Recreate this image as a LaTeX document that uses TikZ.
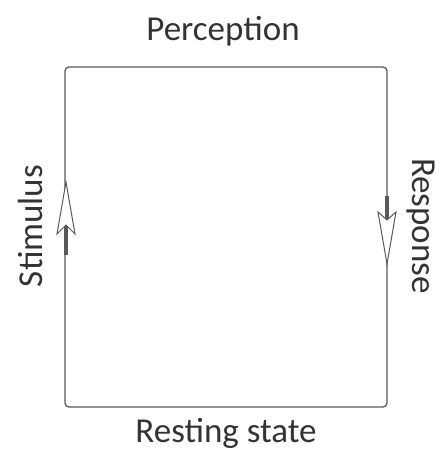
\documentclass[tikz,border=0pt]{standalone}
\usepackage{fontspec}
\setmainfont{Carlito}
\begin{document}
\begin{tikzpicture}[x=1pt,y=-1pt,
  frame/.style={draw=black!65,line width=1.3pt,rounded corners=4pt},
  head/.style={draw=black!65,line width=1pt,fill=white,line join=miter},
  shaft/.style={draw=black!65,line width=3.5pt},
  lbl/.style={font=\fontsize{35}{40}\selectfont,text=black!80}]
\useasboundingbox (0,0) rectangle (441,455);
\coordinate (tl) at (65,67);
\coordinate (br) at (387,407);
\draw[frame] (tl) rectangle (br);
% left arrow (up)
\coordinate (ltip) at (66,182);
\coordinate (lnotch) at (66,225);
\coordinate (ltail) at (66,255);
\draw[shaft] (lnotch) -- (ltail);
\draw[head] (ltip) -- (57,234) -- (lnotch) -- (75,234) -- cycle;
% right arrow (down)
\coordinate (rtip) at (387,264);
\coordinate (rnotch) at (387,220);
\coordinate (rtail) at (387,196);
\draw[shaft] (rtail) -- (rnotch);
\draw[head] (rtip) -- (378,212) -- (rnotch) -- (396,212) -- cycle;
\node[lbl] (p) at (223,31) {Perception};
\node[lbl] (r) at (226,433) {Resting state};
\node[lbl,rotate=90] (s) at (30,226) {Stimulus};
\node[lbl,rotate=-90] (q) at (421,226) {Response};
\end{tikzpicture}
\end{document}
